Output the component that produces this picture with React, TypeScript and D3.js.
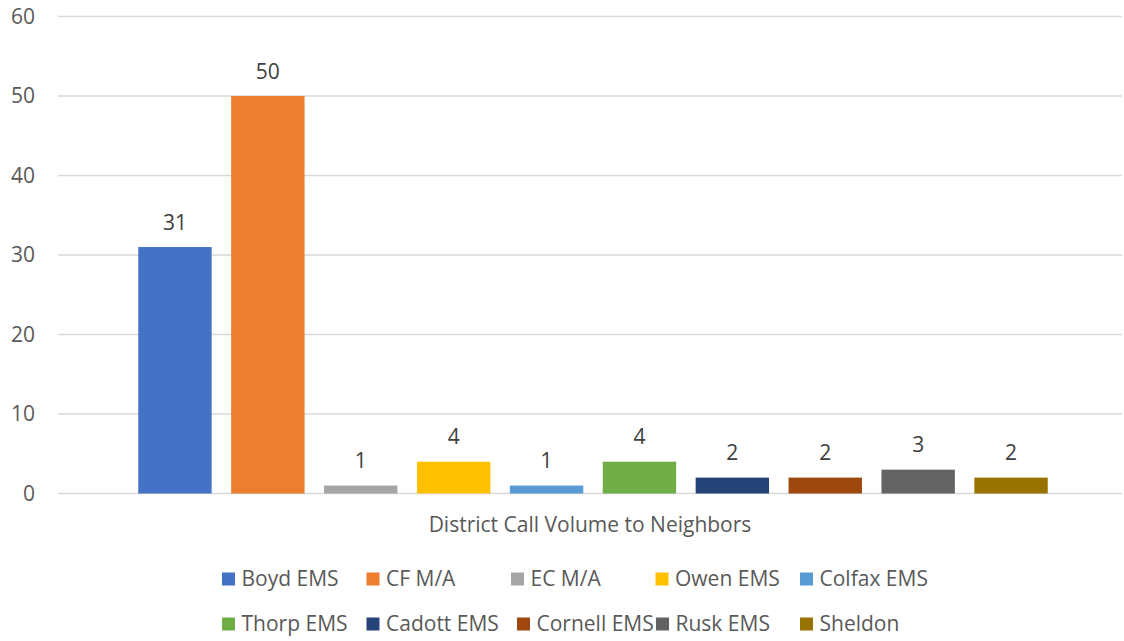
import React from "react";
import * as d3 from "d3";

const categories = ["District Call Volume to Neighbors"];
const seriesNames = ["Boyd EMS", "CF M/A", "EC M/A", "Owen EMS", "Colfax EMS", "Thorp EMS", "Cadott EMS", "Cornell EMS", "Rusk EMS", "Sheldon"];
const seriesValues = [31, 50, 1, 4, 1, 4, 2, 2, 3, 2];
const seriesColors = ["#4472C4", "#ED7D31", "#A5A5A5", "#FFC000", "#5B9BD5", "#70AD47", "#264478", "#9E480E", "#636363", "#997300"];
const yTicks = [0, 10, 20, 30, 40, 50, 60];

const W = 1124, H = 641;
const FONT = "'Open Sans', 'Noto Sans', sans-serif";

export default function App() {
  const left = 58, right = 1122, top = 16.5, bottom = 493.5;
  const y = d3.scaleLinear().domain([0, 60]).range([bottom, top]);
  const x0 = d3.scaleBand().domain(categories).range([left, right]).paddingOuter(0.07266).paddingInner(0);
  const bandStart = x0(categories[0])! + 3;
  const x1 = d3.scaleBand().domain(seriesNames).range([bandStart, bandStart + x0.bandwidth()]).paddingInner(0.21).paddingOuter(0.105);
  const legendX = [222, 366.5, 511, 655.5, 800, 222, 366.5, 517, 656, 800];
  const legendRows = [579, 624];
  return (
    <svg width={W} height={H} style={{ position: "absolute", left: 0, top: 0, background: "#fff" }} fontFamily={FONT}>
      {yTicks.map((t) => (
        <g key={t}>
          <line x1={left} x2={right} y1={y(t)} y2={y(t)} stroke="#d9d9d9" strokeWidth={1.5} />
          <text x={35} y={y(t)} dy="0.35em" textAnchor="end" fontSize={21} fill="#595959">{t}</text>
        </g>
      ))}
      {seriesNames.map((s, i) => {
        const v = seriesValues[i];
        const bx = x1(s)!;
        return (
          <g key={s}>
            <rect x={bx} y={y(v)} width={x1.bandwidth()} height={bottom - y(v)} fill={seriesColors[i]} />
            <text x={bx + x1.bandwidth() / 2} y={y(v) - 17.4} textAnchor="middle" fontSize={21} fill="#404040">{v}</text>
          </g>
        );
      })}
      <text x={(left + right) / 2} y={532} textAnchor="middle" fontSize={21} fill="#595959">{categories[0]}</text>
      {seriesNames.map((s, i) => {
        const cx = legendX[i];
        const cy = legendRows[Math.floor(i / 5)];
        return (
          <g key={s}>
            <rect x={cx} y={cy - 6.5} width={13} height={13} fill={seriesColors[i]} />
            <text x={cx + 19.5} y={cy} dy="0.35em" fontSize={21} fill="#595959">{s}</text>
          </g>
        );
      })}
    </svg>
  );
}
